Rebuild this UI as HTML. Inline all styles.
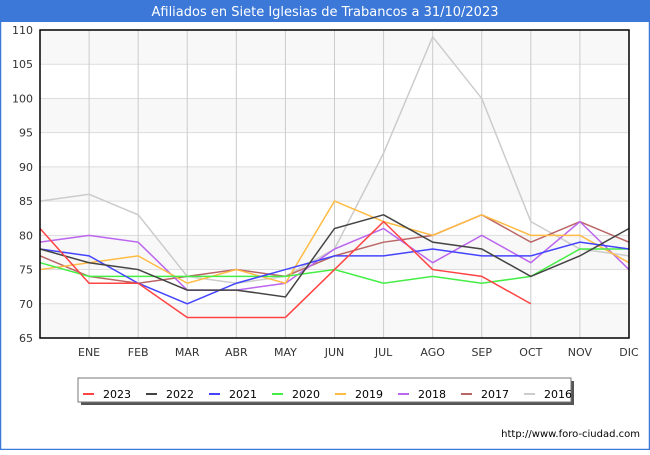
<!DOCTYPE html>
<html><head><meta charset="utf-8"><style>
body{margin:0;background:#fff;font-family:"Liberation Sans","DejaVu Sans",sans-serif;}
#wrap{position:relative;width:650px;height:450px;}
</style></head><body><div id="wrap">
<svg id="svg" width="650" height="450" xmlns="http://www.w3.org/2000/svg" font-family="DejaVu Sans, Liberation Sans, sans-serif">
<rect x="0" y="0" width="650" height="22" fill="#3c78d8"/>
<rect x="0.5" y="0.5" width="649" height="449" fill="none" stroke="#3c78d8" stroke-width="1.5"/>
<text x="325" y="16" text-anchor="middle" fill="#fff" font-size="13">Afiliados en Siete Iglesias de Trabancos a 31/10/2023</text>
<g id="grid"></g><g id="series"></g><g id="axes"></g>
<g id="legend"></g>
<text x="640" y="437" text-anchor="end" font-size="10" fill="#000">http://www.foro-ciudad.com</text>
</svg></div>
<script>
const categories=["","ENE","FEB","MAR","ABR","MAY","JUN","JUL","AGO","SEP","OCT","NOV","DIC"];
const yTicks=[65,70,75,80,85,90,95,100,105,110];
const seriesNames=["2023","2022","2021","2020","2019","2018","2017","2016"];
const colors=["#ff4444","#444444","#4444ff","#44ee44","#ffbb44","#bb66ee","#bb6666","#cccccc"];
const s2023=[81,73,73,68,68,68,75,82,75,74,70];
const s2022=[78,76,75,72,72,71,81,83,79,78,74,77,81];
const s2021=[78,77,73,70,73,75,77,77,78,77,77,79,78];
const s2020=[76,74,74,74,74,74,75,73,74,73,74,78,78];
const s2019=[75,76,77,73,75,73,85,82,80,83,80,80,76];
const s2018=[79,80,79,72,72,73,78,81,76,80,76,82,75];
const s2017=[77,74,73,74,75,74,77,79,80,83,79,82,79];
const s2016=[85,86,83,74,73,74,78,92,109,100,82,78,77];
const allSeries=[s2023,s2022,s2021,s2020,s2019,s2018,s2017,s2016];
const NS="http://www.w3.org/2000/svg";
const X0=40,X1=629,Y0=338,Y1=30;
const xs=i=>X0+(X1-X0)*i/(categories.length-1);
const ys=v=>Y0-(v-65)/(110-65)*(Y0-Y1);
function mk(t,a,p){const e=document.createElementNS(NS,t);for(const k in a)e.setAttribute(k,a[k]);p.appendChild(e);return e;}
const grid=document.getElementById('grid'),axes=document.getElementById('axes'),ser=document.getElementById('series'),leg=document.getElementById('legend');
for(let i=0;i<yTicks.length-1;i++){if(i%2==0){const b=mk('rect',{x:X0,y:ys(yTicks[i+1]),width:X1-X0,height:ys(yTicks[i])-ys(yTicks[i+1]),fill:'#f8f8f8'},grid);

}}
yTicks.forEach(v=>{const l=mk('line',{x1:X0,x2:X1,y1:ys(v),y2:ys(v),stroke:'#dddddd'},grid);


const t=mk('text',{x:X0-7,y:ys(v)+4,'text-anchor':'end','font-size':'11',fill:'#333'},axes);t.textContent=v;

});
categories.forEach((c,i)=>{if(i>0){const l=mk('line',{x1:xs(i),x2:xs(i),y1:Y1,y2:Y0,stroke:'#cccccc'},grid);

}
const t=mk('text',{x:xs(i),y:356,'text-anchor':'middle','font-size':'11',fill:'#333'},axes);t.textContent=c;

});
const ax=mk('rect',{x:X0,y:Y1,width:X1-X0,height:Y0-Y1,fill:'none',stroke:'#000','stroke-width':1.5},axes);


for(let k=allSeries.length-1;k>=0;k--){const d=allSeries[k].map((v,i)=>(i?'L':'M')+xs(i)+' '+ys(v)).join('');
const p=mk('path',{d:d,fill:'none',stroke:colors[k],'stroke-width':1.5},ser);

}
const sh=mk('rect',{x:81,y:381,width:493,height:24,fill:'#555'},leg);


const bx=mk('rect',{x:78,y:378,width:493,height:24,fill:'#fff',stroke:'#777'},leg);


seriesNames.forEach((n,k)=>{const x=83+k*63;
const l=mk('line',{x1:x,x2:x+11,y1:394,y2:394,stroke:colors[k],'stroke-width':2},leg);


const t=mk('text',{x:x+20,y:398,'font-size':'11',fill:'#000'},leg);t.textContent=n;

});
</script></body></html>
